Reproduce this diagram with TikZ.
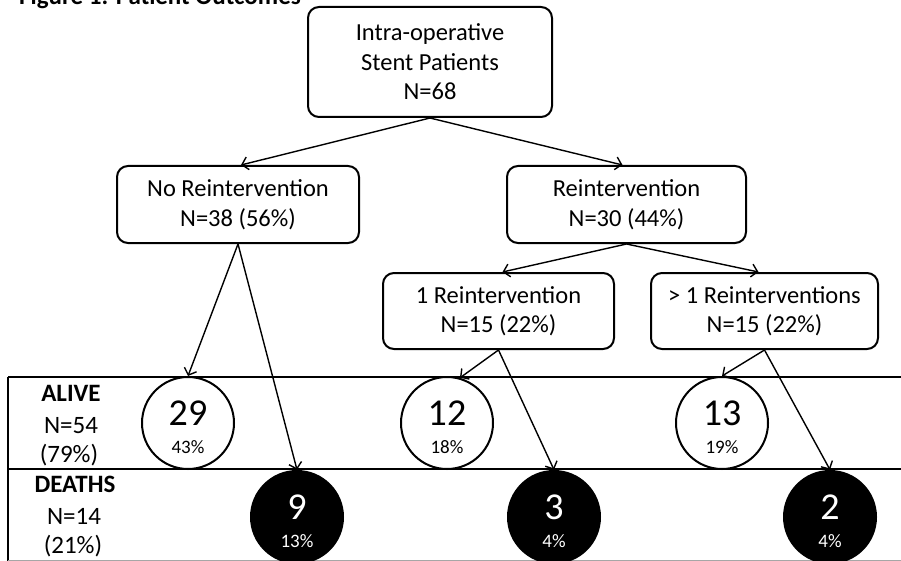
\documentclass[tikz,border=0pt]{standalone}
\usepackage{fontspec}
\setmainfont{Carlito}
\usetikzlibrary{arrows.meta}
\begin{document}
\begin{tikzpicture}[x=1pt,y=-1pt,
 box/.style={draw, line width=2pt, rounded corners=11pt, align=center, font=\fontsize{24.5}{29.5}\selectfont, inner sep=0pt},
 conn/.style={line width=1.4pt, -{Straight Barb[length=6pt,width=13pt,line width=1.4pt]}},
 alivec/.style={circle, draw, line width=2pt, fill=white, minimum size=92pt, inner sep=0pt},
 deathc/.style={circle, fill=black, minimum size=94pt, inner sep=0pt},
 bignum/.style={font=\fontsize{38}{38}\selectfont, anchor=base},
 pct/.style={font=\fontsize{19}{19}\selectfont, anchor=base},
 rowlab/.style={font=\fontsize{25}{25}\selectfont, anchor=base},
 tline/.style={line width=1.3pt}]
\useasboundingbox (0,0) rectangle (901,561);
% title
\node[anchor=base west, inner sep=0pt, font=\bfseries\fontsize{25}{25}\selectfont] (title) at (19,5) {Figure 1. Patient Outcomes};
% table
\coordinate (tl) at (8,377);
\coordinate (tr) at (901,377);
\coordinate (ml) at (8,469);
\coordinate (mr) at (901,469);
\coordinate (bl) at (8,561);
\coordinate (bbl) at (8,560);
\coordinate (bbr) at (901,560);
\draw[tline] (tl) -- (tr);
\draw[tline] (ml) -- (mr);
\draw[tline] (tl) -- (bl);
\draw[line width=1pt, black!35] (bbl) -- (bbr);
% row labels
\node[rowlab] (alive) at (71,401) {\textbf{ALIVE}};
\node[rowlab] (aliveN) at (71,433) {N=54};
\node[rowlab] (aliveP) at (69,462) {(79\%)};
\node[rowlab] (death) at (75,492) {\textbf{DEATHS}};
\node[rowlab] (deathN) at (74,524) {N=14};
\node[rowlab] (deathP) at (73,553) {(21\%)};
% circles
\node[alivec] (c29) at (188,423) {};
\node[bignum] (n29) at (188,425) {29};
\node[pct] (p29) at (188,453) {43\%};
\node[alivec] (c12) at (447,423) {};
\node[bignum] (n12) at (447,425) {12};
\node[pct] (p12) at (447,453) {18\%};
\node[alivec] (c13) at (722,423) {};
\node[bignum] (n13) at (722,425) {13};
\node[pct] (p13) at (722,453) {19\%};
\node[deathc] (c9) at (297,517) {};
\node[bignum, text=white] (n9) at (297,519) {9};
\node[pct, text=white] (p9) at (297,547) {13\%};
\node[deathc] (c3) at (554,517) {};
\node[bignum, text=white] (n3) at (554,519) {3};
\node[pct, text=white] (p3) at (554,547) {4\%};
\node[deathc] (c2) at (830,517) {};
\node[bignum, text=white] (n2) at (830,519) {2};
\node[pct, text=white] (p2) at (830,547) {4\%};
% boxes
\node[box, minimum width=244pt, minimum height=110pt] (top) at (430,62) {Intra-operative\\Stent Patients\\N=68};
\node[box, minimum width=242pt, minimum height=77pt] (noreint) at (238,204.5) {No Reintervention\\N=38 (56\%)};
\node[box, minimum width=239pt, minimum height=77pt] (reint) at (626.5,204.5) {Reintervention\\N=30 (44\%)};
\node[box, minimum width=231pt, minimum height=76pt] (one) at (498.5,311) {1 Reintervention\\N=15 (22\%)};
\node[box, minimum width=227pt, minimum height=76pt] (more) at (764.5,311) {> 1 Reinterventions\\N=15 (22\%)};
% connectors
\draw[conn] (top.south) -- ([xshift=3pt]noreint.north);
\draw[conn] (top.south) -- ([xshift=-4pt]reint.north);
\draw[conn] (reint.south) -- ([xshift=4pt]one.north);
\draw[conn] (reint.south) -- ([xshift=-6pt]more.north);
\draw[conn] (noreint.south) -- (c29.north);
\draw[conn] (noreint.south) -- (c9.north);
\draw[conn] (one.south) -- (c12.74);
\draw[conn] (one.south) -- (c3.north);
\draw[conn] (more.south) -- (c13.north);
\draw[conn] (more.south) -- (c2.north);
\end{tikzpicture}
\end{document}
